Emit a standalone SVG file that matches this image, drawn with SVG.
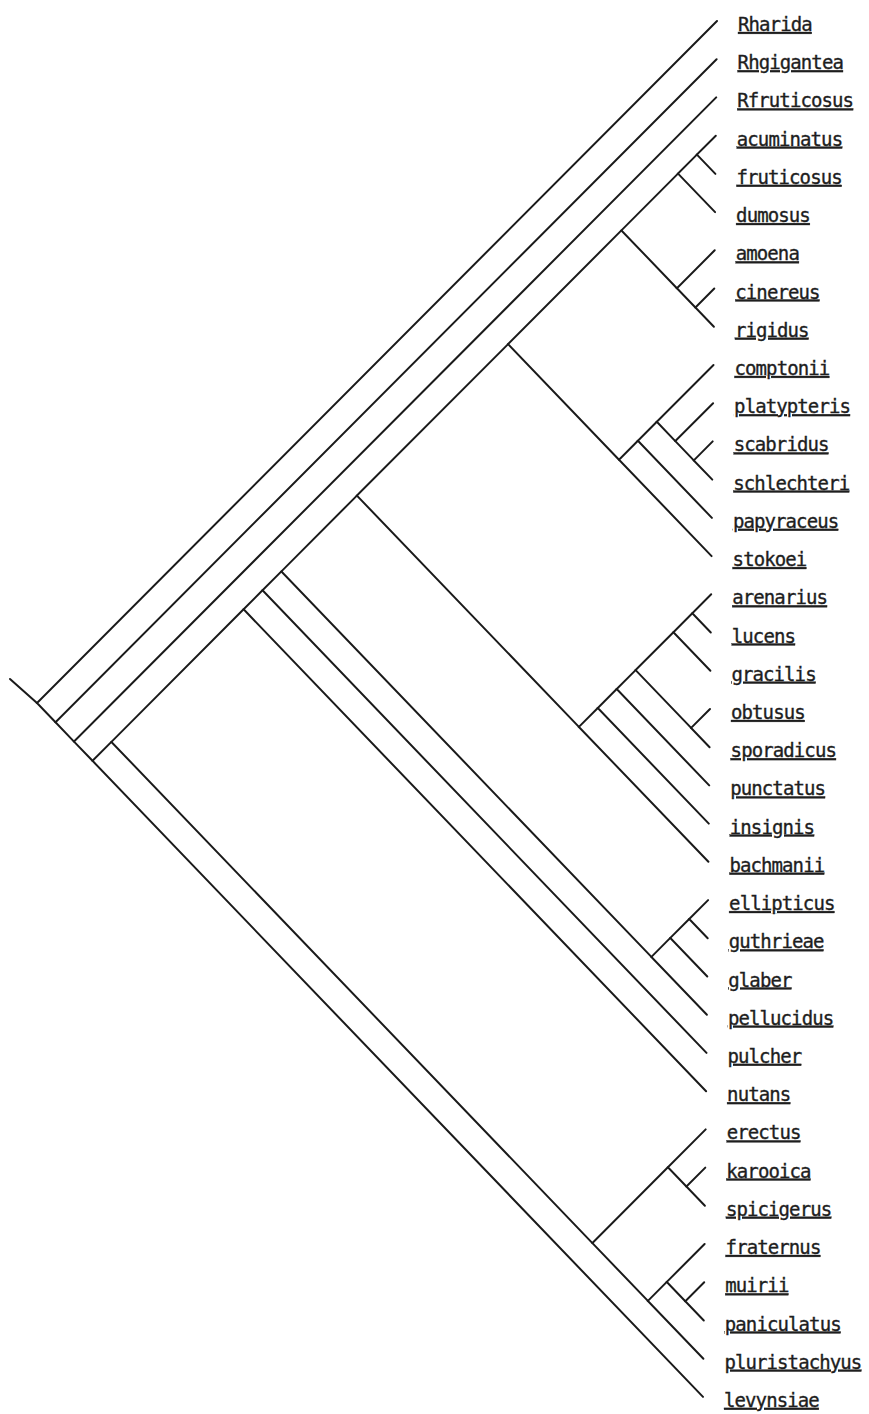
<svg xmlns="http://www.w3.org/2000/svg" width="869" height="1414" viewBox="0 0 869 1414">
<style>
.e{fill:none;stroke:#1a1a1a;stroke-width:2;stroke-linecap:round;stroke-linejoin:miter}
.t{font-family:"DejaVu Sans Mono","Liberation Mono",monospace;font-size:19px;letter-spacing:-0.9px;fill:#1e1e1e;stroke:#1e1e1e;stroke-width:0.35px;text-decoration:underline;text-decoration-thickness:1.6px}
</style>
<rect width="869" height="1414" fill="#ffffff"/>
<g id="connectors">
<polyline class="e" points="10,679 37,703"/>
<polyline class="e" points="717,21 37,703 55.5,722.3"/>
<polyline class="e" points="716.6,59.2 55.5,722.3 74,741.6"/>
<polyline class="e" points="716.2,97.4 74,741.6 92.5,760.8"/>
<polyline class="e" points="111.4,741.9 92.5,760.8 703,1396.9"/>
<polyline class="e" points="243.6,609.3 111.4,741.9 592.4,1243.1"/>
<polyline class="e" points="262.5,590.3 243.6,609.3 706.1,1091.2"/>
<polyline class="e" points="281.4,571.4 262.5,590.3 706.5,1052.9"/>
<polyline class="e" points="356.9,495.6 281.4,571.4 651.4,956.9"/>
<polyline class="e" points="508.1,344.1 356.9,495.6 578.9,726.9"/>
<polyline class="e" points="621.4,230.4 508.1,344.1 619,459.7"/>
<polyline class="e" points="678,173.6 621.4,230.4 676.9,288.2"/>
<polyline class="e" points="696.9,154.6 678,173.6 715.1,212.1"/>
<polyline class="e" points="715.8,135.7 696.9,154.6 715.4,173.9"/>
<polyline class="e" points="714.7,250.3 676.9,288.2 695.4,307.5"/>
<polyline class="e" points="714.3,288.5 695.4,307.5 713.9,326.8"/>
<polyline class="e" points="637.9,440.8 619,459.7 711.6,556.1"/>
<polyline class="e" points="656.8,421.8 637.9,440.8 711.9,517.9"/>
<polyline class="e" points="713.5,365 656.8,421.8 675.3,441.1"/>
<polyline class="e" points="713.1,403.2 675.3,441.1 693.8,460.4"/>
<polyline class="e" points="712.7,441.4 693.8,460.4 712.3,479.6"/>
<polyline class="e" points="597.8,708 578.9,726.9 708.4,861.8"/>
<polyline class="e" points="616.7,689 597.8,708 708.8,823.6"/>
<polyline class="e" points="635.6,670.1 616.7,689 709.2,785.4"/>
<polyline class="e" points="673.4,632.2 635.6,670.1 691.1,727.9"/>
<polyline class="e" points="692.3,613.2 673.4,632.2 710.4,670.7"/>
<polyline class="e" points="711.2,594.3 692.3,613.2 710.8,632.5"/>
<polyline class="e" points="710,709 691.1,727.9 709.6,747.2"/>
<polyline class="e" points="670.3,937.9 651.4,956.9 706.9,1014.7"/>
<polyline class="e" points="689.2,919 670.3,937.9 707.3,976.5"/>
<polyline class="e" points="708.1,900.1 689.2,919 707.7,938.3"/>
<polyline class="e" points="667.9,1167.3 592.4,1243.1 647.9,1300.9"/>
<polyline class="e" points="705.7,1129.4 667.9,1167.3 686.4,1186.5"/>
<polyline class="e" points="705.3,1167.6 686.4,1186.5 704.9,1205.8"/>
<polyline class="e" points="666.8,1281.9 647.9,1300.9 703.4,1358.7"/>
<polyline class="e" points="704.6,1244 666.8,1281.9 685.3,1301.2"/>
<polyline class="e" points="704.2,1282.3 685.3,1301.2 703.8,1320.5"/>
</g>
<g id="leaf-Rharida"><text class="t" x="738" y="31">Rharida</text></g>
<g id="leaf-Rhgigantea"><text class="t" x="737.6" y="69.2">Rhgigantea</text></g>
<g id="leaf-Rfruticosus"><text class="t" x="737.2" y="107.4">Rfruticosus</text></g>
<g id="leaf-acuminatus"><text class="t" x="736.8" y="145.7">acuminatus</text></g>
<g id="leaf-fruticosus"><text class="t" x="736.4" y="183.9">fruticosus</text></g>
<g id="leaf-dumosus"><text class="t" x="736.1" y="222.1">dumosus</text></g>
<g id="leaf-amoena"><text class="t" x="735.7" y="260.3">amoena</text></g>
<g id="leaf-cinereus"><text class="t" x="735.3" y="298.5">cinereus</text></g>
<g id="leaf-rigidus"><text class="t" x="734.9" y="336.8">rigidus</text></g>
<g id="leaf-comptonii"><text class="t" x="734.5" y="375">comptonii</text></g>
<g id="leaf-platypteris"><text class="t" x="734.1" y="413.2">platypteris</text></g>
<g id="leaf-scabridus"><text class="t" x="733.7" y="451.4">scabridus</text></g>
<g id="leaf-schlechteri"><text class="t" x="733.3" y="489.6">schlechteri</text></g>
<g id="leaf-papyraceus"><text class="t" x="732.9" y="527.9">papyraceus</text></g>
<g id="leaf-stokoei"><text class="t" x="732.6" y="566.1">stokoei</text></g>
<g id="leaf-arenarius"><text class="t" x="732.2" y="604.3">arenarius</text></g>
<g id="leaf-lucens"><text class="t" x="731.8" y="642.5">lucens</text></g>
<g id="leaf-gracilis"><text class="t" x="731.4" y="680.7">gracilis</text></g>
<g id="leaf-obtusus"><text class="t" x="731" y="719">obtusus</text></g>
<g id="leaf-sporadicus"><text class="t" x="730.6" y="757.2">sporadicus</text></g>
<g id="leaf-punctatus"><text class="t" x="730.2" y="795.4">punctatus</text></g>
<g id="leaf-insignis"><text class="t" x="729.8" y="833.6">insignis</text></g>
<g id="leaf-bachmanii"><text class="t" x="729.4" y="871.8">bachmanii</text></g>
<g id="leaf-ellipticus"><text class="t" x="729.1" y="910.1">ellipticus</text></g>
<g id="leaf-guthrieae"><text class="t" x="728.7" y="948.3">guthrieae</text></g>
<g id="leaf-glaber"><text class="t" x="728.3" y="986.5">glaber</text></g>
<g id="leaf-pellucidus"><text class="t" x="727.9" y="1024.7">pellucidus</text></g>
<g id="leaf-pulcher"><text class="t" x="727.5" y="1062.9">pulcher</text></g>
<g id="leaf-nutans"><text class="t" x="727.1" y="1101.2">nutans</text></g>
<g id="leaf-erectus"><text class="t" x="726.7" y="1139.4">erectus</text></g>
<g id="leaf-karooica"><text class="t" x="726.3" y="1177.6">karooica</text></g>
<g id="leaf-spicigerus"><text class="t" x="725.9" y="1215.8">spicigerus</text></g>
<g id="leaf-fraternus"><text class="t" x="725.6" y="1254">fraternus</text></g>
<g id="leaf-muirii"><text class="t" x="725.2" y="1292.3">muirii</text></g>
<g id="leaf-paniculatus"><text class="t" x="724.8" y="1330.5">paniculatus</text></g>
<g id="leaf-pluristachyus"><text class="t" x="724.4" y="1368.7">pluristachyus</text></g>
<g id="leaf-levynsiae"><text class="t" x="724" y="1406.9">levynsiae</text></g>
</svg>
